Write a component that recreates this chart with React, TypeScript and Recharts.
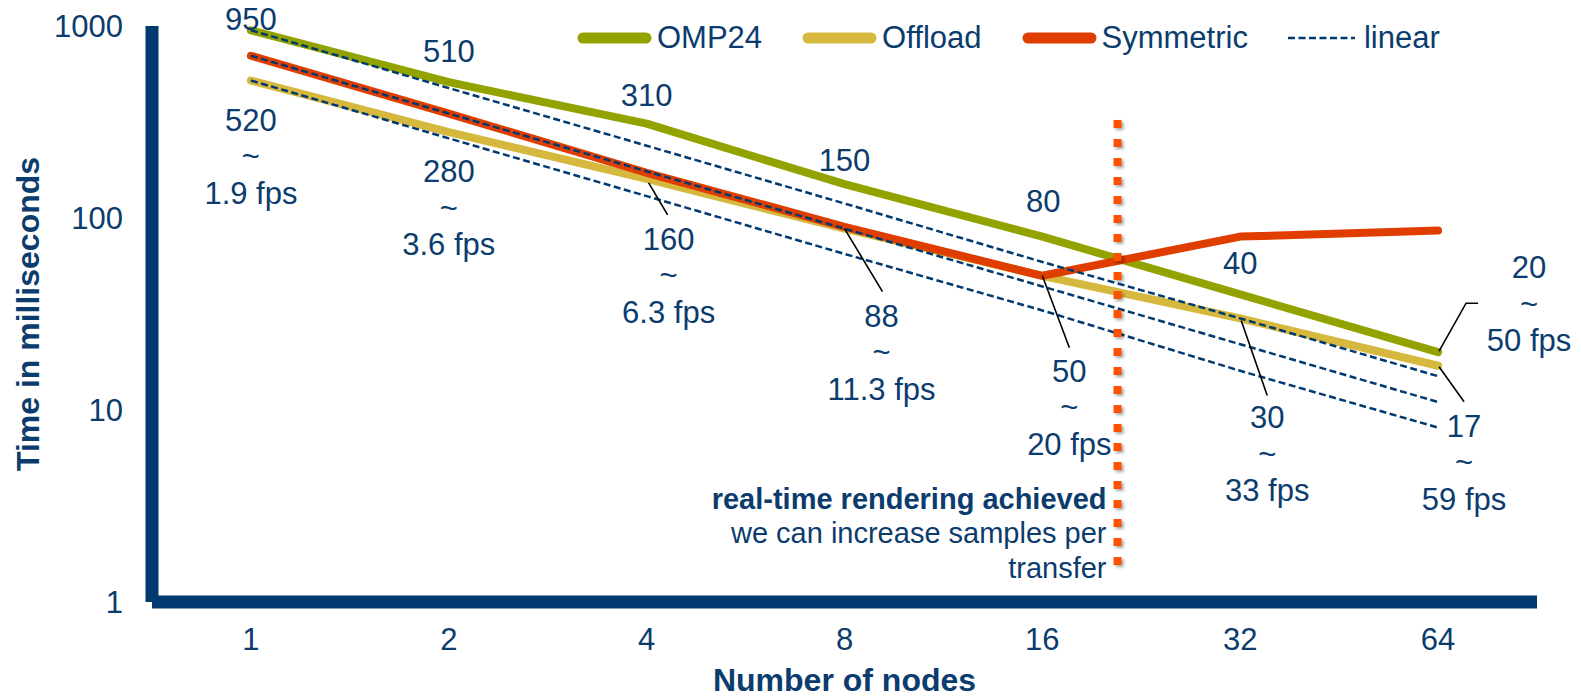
import React from "react";
import {
  LineChart,
  Line,
  XAxis,
  YAxis,
  Legend,
  LabelList,
  ReferenceLine,
  ReferenceDot,
} from "recharts";

// x categories (number of nodes) and y ticks
const nodeCounts = ["1", "2", "4", "8", "16", "32", "64"];
const yTicks = [1, 10, 100, 1000];

// time in milliseconds per frame
const omp24 = [950, 510, 310, 150, 80, 40, 20];
const offload = [520, 280, 160, 88, 50, 30, 17];
const symmetric = [700, 350, 172, 90, 50, 80, 86];

// ideal linear scaling guides
const linearFromOmp = [950, 475, 238, 119, 59, 30, 15];
const linearFromSym = [700, 350, 175, 88, 44, 22, 11];
const linearFromOffload = [520, 260, 130, 65, 33, 16, 8.1];

// point labels
const ompLabels = ["950", "510", "310", "150", "80", "40", "20"];
const ompFps = ["", "", "", "", "", "", "50 fps"];
const offloadLabels = ["520", "280", "160", "88", "50", "30", "17"];
const offloadFps = ["1.9 fps", "3.6 fps", "6.3 fps", "11.3 fps", "20 fps", "33 fps", "59 fps"];

// real-time threshold marker (between 16 and 32 nodes)
const realTimeAt = 4.38;
const realTimeTop = 324;
const realTimeBottom = 1.43;
const noteLines = ["real-time rendering achieved", "we can increase samples per", "transfer"];

const NAVY = "#003a70";
const TEXT = "#0b3c6d";
const GREEN = "#92a300";
const GOLD = "#d6b83e";
const RED = "#e03d00";
const ORANGE = "#ff5200";
const FONT = "'Liberation Sans', Arial, sans-serif";

const series = [
  { key: "omp24", name: "OMP24", color: GREEN },
  { key: "offload", name: "Offload", color: GOLD },
  { key: "symmetric", name: "Symmetric", color: RED },
];

const chartData = nodeCounts.map((n, i) => ({
  idx: i,
  nodes: n,
  omp24: omp24[i],
  offload: offload[i],
  symmetric: symmetric[i],
  linA: linearFromOmp[i],
  linB: linearFromSym[i],
  linC: linearFromOffload[i],
}));

type LabelPos = { dx: number; dy: number; leader?: number[][] };

// label placement relative to the data point (pixels)
const ompLabelPos: LabelPos[] = [
  { dx: 0, dy: 0 },
  { dx: 0, dy: -20 },
  { dx: 0, dy: -18 },
  { dx: 0, dy: -13 },
  { dx: 1, dy: -25 },
  { dx: 0, dy: -20 },
  { dx: 91, dy: -74, leader: [[1, -1], [28, -49], [40, -49]] },
];
const offloadLabelPos: LabelPos[] = [
  { dx: 0, dy: 50 },
  { dx: 0, dy: 50 },
  { dx: 22, dy: 71, leader: [[2, 4], [21, 36]] },
  { dx: 37, dy: 98, leader: [[0, 0], [38, 63]] },
  { dx: 27, dy: 106, leader: [[0, 0], [27, 72]] },
  { dx: 27, dy: 110, leader: [[1, 2], [27, 77]] },
  { dx: 26, dy: 71, leader: [[1, 1], [26, 36]] },
];

function makeLabel(values: string[], fps: string[], layout: LabelPos[]) {
  return (props: any) => {
    const index = props.index;
    const x = props.viewBox?.x ?? props.x;
    const y = props.viewBox?.y ?? props.y;
    const pos = layout[index];
    if (!pos || x == null || y == null) return null;
    const lines = fps[index] ? [values[index], "~", fps[index]] : [values[index]];
    const tx = x + pos.dx;
    return (
      <g>
        {pos.leader && (
          <polyline
            points={pos.leader.map(([a, b]) => `${x + a},${y + b}`).join(" ")}
            fill="none"
            stroke="#000"
            strokeWidth={1.6}
          />
        )}
        <text x={tx} y={y + pos.dy} textAnchor="middle" fontSize={31} fill={TEXT} fontFamily={FONT}>
          {lines.map((t, i) => (
            <tspan key={i} x={tx} dy={i === 0 ? 0 : 36.5}>
              {t}
            </tspan>
          ))}
        </text>
      </g>
    );
  };
}

function LegendBox() {
  return (
    <div style={{ display: "flex", alignItems: "center", height: 30, fontSize: 31, color: TEXT, fontFamily: FONT, whiteSpace: "nowrap" }}>
      {series.map((s) => (
        <div key={s.key} style={{ display: "flex", alignItems: "center", marginRight: 40 }}>
          <svg width={75} height={14}>
            <line x1={6} y1={7} x2={69} y2={7} stroke={s.color} strokeWidth={11} strokeLinecap="round" />
          </svg>
          <span style={{ marginLeft: 5, lineHeight: "30px" }}>{s.name}</span>
        </div>
      ))}
      <div style={{ display: "flex", alignItems: "center" }}>
        <svg width={67} height={14}>
          <line x1={0} y1={7} x2={67} y2={7} stroke={NAVY} strokeWidth={2.5} strokeDasharray="7 3.5" />
        </svg>
        <span style={{ marginLeft: 9, lineHeight: "30px" }}>linear</span>
      </div>
    </div>
  );
}

function NoteText(props: any) {
  const { cx, cy } = props;
  if (cx == null || cy == null) return null;
  const x = cx - 11;
  return (
    <text textAnchor="end" fontSize={29} fill={TEXT} fontFamily={FONT}>
      <tspan x={x} y={cy - 63} fontWeight={700}>{noteLines[0]}</tspan>
      <tspan x={x} y={cy - 29}>{noteLines[1]}</tspan>
      <tspan x={x} y={cy + 6}>{noteLines[2]}</tspan>
    </text>
  );
}

export default function App() {
  return (
    <div style={{ position: "absolute", left: 0, top: 0, width: 1581, height: 699, background: "#fff", fontFamily: FONT }}>
      <LineChart width={1581} height={699} data={chartData} margin={{ top: 26, right: 44, bottom: 0, left: 0 }}>
        <XAxis
          type="number"
          dataKey="idx"
          domain={[-0.5, 6.5]}
          ticks={nodeCounts.map((_, i) => i)}
          tickFormatter={(i: number) => nodeCounts[i]}
          interval={0}
          height={97}
          axisLine={{ stroke: NAVY, strokeWidth: 13 }}
          tickLine={false}
          tickSize={0}
          tickMargin={26}
          tick={{ fill: TEXT, fontSize: 31 }}
          label={(p: any) => {
            const vb = p.viewBox || { x: 152, y: 602, width: 1385 };
            return (
              <text x={vb.x + vb.width / 2} y={vb.y + 89} textAnchor="middle" fontSize={32} fontWeight={700} fill={TEXT} fontFamily={FONT}>
                Number of nodes
              </text>
            );
          }}
        />
        <YAxis
          type="number"
          scale="log"
          domain={[1, 1000]}
          ticks={yTicks}
          width={152}
          axisLine={{ stroke: NAVY, strokeWidth: 13 }}
          tickLine={false}
          tickSize={0}
          tickMargin={29}
          tick={{ fill: TEXT, fontSize: 31 }}
          label={(p: any) => {
            const vb = p.viewBox || { x: 0, y: 26, height: 576 };
            const lx = vb.x + 39;
            const ly = vb.y + vb.height / 2;
            return (
              <text x={lx} y={ly} transform={`rotate(-90, ${lx}, ${ly})`} textAnchor="middle" fontSize={32} fontWeight={700} fill={TEXT} fontFamily={FONT}>
                Time in milliseconds
              </text>
            );
          }}
        />
        <Legend
          layout="horizontal"
          verticalAlign="middle"
          align="center"
          wrapperStyle={{ top: 23, left: 577, width: 950, height: 30 }}
          content={() => <LegendBox />}
        />

        <Line dataKey="offload" name="Offload" stroke={GOLD} strokeWidth={8} strokeLinecap="round" strokeLinejoin="round" dot={false} isAnimationActive={false} legendType="none">
          <LabelList dataKey="offload" content={makeLabel(offloadLabels, offloadFps, offloadLabelPos)} />
        </Line>
        <Line dataKey="omp24" name="OMP24" stroke={GREEN} strokeWidth={8} strokeLinecap="round" strokeLinejoin="round" dot={false} isAnimationActive={false} legendType="none">
          <LabelList dataKey="omp24" content={makeLabel(ompLabels, ompFps, ompLabelPos)} />
        </Line>
        <Line dataKey="symmetric" name="Symmetric" stroke={RED} strokeWidth={8} strokeLinecap="round" strokeLinejoin="round" dot={false} isAnimationActive={false} legendType="none" />

        <Line dataKey="linA" stroke={NAVY} strokeWidth={2.5} strokeDasharray="7 3.5" dot={false} isAnimationActive={false} legendType="none" />
        <Line dataKey="linB" stroke={NAVY} strokeWidth={2.5} strokeDasharray="7 3.5" dot={false} isAnimationActive={false} legendType="none" />
        <Line dataKey="linC" stroke={NAVY} strokeWidth={2.5} strokeDasharray="7 3.5" dot={false} isAnimationActive={false} legendType="none" />

        <ReferenceLine
          segment={[
            { x: realTimeAt, y: realTimeTop },
            { x: realTimeAt, y: realTimeBottom },
          ]}
          stroke={ORANGE}
          strokeWidth={8}
          strokeDasharray="8 11"
          style={{ filter: "drop-shadow(2px 2px 1.5px rgba(0,0,0,0.35))" }}
          ifOverflow="visible"
        />
        <ReferenceDot x={realTimeAt} y={realTimeBottom} r={0} ifOverflow="visible" shape={(p: any) => <NoteText cx={p.cx} cy={p.cy} />} />
      </LineChart>
    </div>
  );
}
